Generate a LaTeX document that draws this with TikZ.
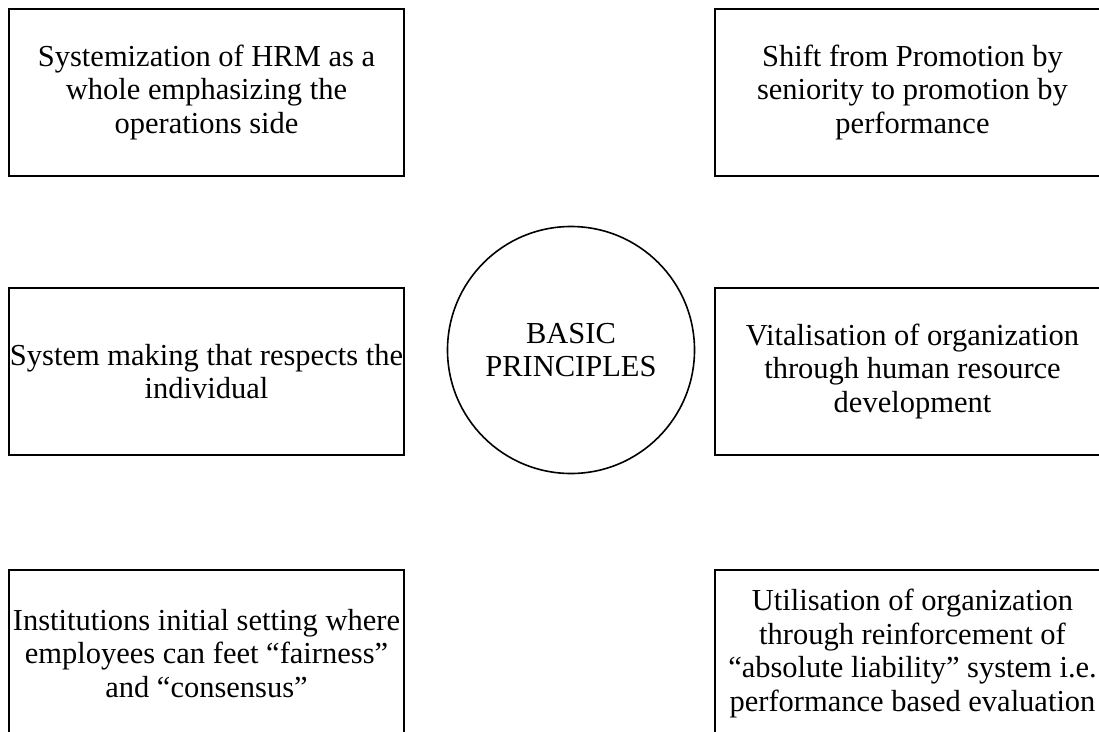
\documentclass[tikz,border=0pt]{standalone}
\usepackage{fontspec}
\setmainfont{Liberation Serif}
\usetikzlibrary{positioning}

\begin{document}
\begin{tikzpicture}[
  x=1pt, y=-1pt, node distance=112pt and 311pt,
  box/.style={draw, line width=1.6pt, inner sep=0pt, outer sep=0pt, align=center,
              minimum width=395pt, minimum height=167pt,
              font=\fontsize{30.5}{33.6}\selectfont},
  hub/.style={draw, circle, line width=1.6pt, inner sep=0pt, outer sep=0pt, align=center,
              minimum size=247pt, font=\fontsize{30.5}{33.6}\selectfont},
]
\path[use as bounding box, clip] (0,0) rectangle (1099,731);

\node[box] at (206.5,92.5) (sys) {Systemization of HRM as a\\ whole emphasizing the\\ operations side};
\node[box, below=of sys] (indiv) {System making that respects the\\ individual};
\node[box, below=115pt of indiv] (fair) {Institutions initial setting where\\ employees can feet “fairness”\\ and “consensus”};

\node[box, right=of sys] (shift) {Shift from Promotion by\\ seniority to promotion by\\ performance};
\node[box, right=of indiv] (vital) {Vitalisation of organization\\ through human resource\\ development};
\node[box, right=of fair] (util) {Utilisation of organization\\ through reinforcement of\\ “absolute liability” system i.e.\\ performance based evaluation};

\node[hub] at (571,350) (basic) {BASIC\\ PRINCIPLES};
\end{tikzpicture}
\end{document}
